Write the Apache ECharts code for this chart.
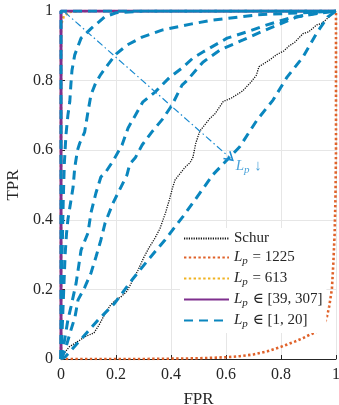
<!DOCTYPE html>
<html>
<head>
<meta charset="utf-8">
<script src="https://cdn.jsdelivr.net/npm/echarts@6/dist/echarts.min.js"></script>
<style>
  html, body { margin: 0; padding: 0; background: #fff; }
  #chart { width: 339px; height: 405px; }
</style>
</head>
<body>
<div id="chart"></div>
<script>
// ROC curves, [FPR, TPR] pairs
const xTicks = [0, 0.2, 0.4, 0.6, 0.8, 1];
const yTicks = [0, 0.2, 0.4, 0.6, 0.8, 1];

const schur = [[0,0],[0.015,0.02],[0.03,0.035],[0.06,0.05],[0.09,0.065],[0.12,0.075],[0.14,0.1],[0.16,0.13],
  [0.18,0.155],[0.2,0.17],[0.22,0.18],[0.24,0.195],[0.26,0.225],[0.28,0.255],[0.3,0.29],[0.32,0.32],
  [0.34,0.345],[0.36,0.375],[0.38,0.42],[0.395,0.46],[0.405,0.49],[0.415,0.515],[0.43,0.53],[0.45,0.55],
  [0.47,0.565],[0.48,0.58],[0.49,0.62],[0.505,0.655],[0.52,0.67],[0.54,0.69],[0.56,0.705],[0.59,0.74],
  [0.62,0.75],[0.64,0.76],[0.66,0.77],[0.69,0.795],[0.71,0.815],[0.72,0.84],[0.74,0.85],[0.76,0.86],
  [0.785,0.875],[0.81,0.885],[0.83,0.9],[0.85,0.91],[0.88,0.935],[0.9,0.94],[0.93,0.96],[0.95,0.965],
  [0.97,0.98],[0.985,0.99],[1,1]];
const lp1225 = [[0,0],[0.3,0],[0.5,0.002],[0.6,0.005],[0.65,0.008],[0.7,0.013],[0.75,0.022],[0.8,0.035],
  [0.85,0.05],[0.88,0.06],[0.905,0.07],[0.93,0.078],[0.95,0.09],[0.965,0.115],[0.975,0.15],[0.985,0.2],
  [0.99,0.27],[0.995,0.36],[0.998,0.46],[1,0.6],[1,1]];
const lp613 = [[0,0],[0,0.96],[0.01,0.985],[0.03,0.997],[0.06,1],[1,1]];
const lp39to307 = [[0,0],[0,1],[1,1]];
// L_p in [1, 20], one curve per L_p (best to worst)
const lpSmall = [
  [[0,0],[0,1],[1,1]],
  [[0,0],[0.002,0.15],[0.004,0.3],[0.008,0.45],[0.012,0.56],[0.018,0.644],[0.025,0.7],[0.032,0.74],
   [0.036,0.79],[0.04,0.83],[0.05,0.874],[0.073,0.922],[0.11,0.95],[0.159,0.983],[0.2,0.995],[0.3,1],[1,1]],
  [[0,0],[0.005,0.1],[0.01,0.2],[0.015,0.3],[0.02,0.36],[0.025,0.4],[0.035,0.45],[0.044,0.494],[0.05,0.55],
   [0.06,0.6],[0.068,0.62],[0.086,0.652],[0.098,0.71],[0.109,0.759],[0.127,0.795],[0.145,0.818],[0.17,0.845],
   [0.2,0.876],[0.24,0.902],[0.295,0.925],[0.367,0.945],[0.476,0.963],[0.553,0.974],[0.713,0.989],[0.93,0.997],[1,1]],
  [[0,0],[0.007,0.026],[0.025,0.112],[0.036,0.149],[0.055,0.218],[0.073,0.313],[0.098,0.362],[0.109,0.42],
   [0.127,0.477],[0.145,0.523],[0.165,0.54],[0.19,0.57],[0.222,0.615],[0.244,0.664],[0.27,0.7],[0.298,0.739],
   [0.342,0.767],[0.396,0.81],[0.44,0.836],[0.48,0.865],[0.516,0.882],[0.604,0.922],[0.676,0.94],[0.749,0.96],
   [0.833,0.98],[0.93,0.994],[1,1]],
  [[0,0],[0.015,0.026],[0.036,0.083],[0.051,0.121],[0.062,0.17],[0.087,0.207],[0.109,0.247],[0.127,0.293],
   [0.145,0.342],[0.16,0.39],[0.189,0.448],[0.218,0.494],[0.24,0.529],[0.25,0.56],[0.27,0.578],[0.295,0.615],
   [0.33,0.652],[0.37,0.69],[0.404,0.73],[0.44,0.787],[0.458,0.8],[0.516,0.853],[0.578,0.888],[0.662,0.917],
   [0.76,0.951],[0.858,0.983],[0.94,0.994],[1,1]],
  [[0,0],[0.015,0.006],[0.08,0.063],[0.135,0.112],[0.196,0.161],[0.258,0.227],[0.316,0.284],[0.378,0.342],
   [0.444,0.41],[0.487,0.457],[0.553,0.53],[0.65,0.61],[0.713,0.687],[0.771,0.744],[0.822,0.81],[0.88,0.868],
   [0.93,0.937],[0.97,0.983],[1,1]]
];
// "L_p decreasing" annotation arrow
const arrowFrom = [0.013, 0.997];
const arrowTo = [0.615, 0.578];
const arrowLabelAt = [0.635, 0.555];

const FONT = '"Liberation Serif", "DejaVu Serif", serif';
const TXT = '#262626';
const BLUE = '#0a86be';
const ARROW_BLUE = '#1b8bd0';
// open chevron head, tip pointing up
const CHEVRON = 'path://M5,0 L10,8.5 L8.8,9.2 L5,2.8 L1.2,9.2 L0,8.5 Z';

const GRID = { left: 61, right: 3, top: 11, bottom: 46 };
const plotW = 339 - GRID.left - GRID.right;
const plotH = 405 - GRID.top - GRID.bottom;
// screen-space direction of the shaft, clockwise from "up"
const headAngle = Math.atan2((arrowTo[0] - arrowFrom[0]) * plotW,
  (arrowTo[1] - arrowFrom[1]) * plotH) * 180 / Math.PI;

const rich = {
  t: { fontFamily: FONT, fontSize: 15, color: TXT },
  i: { fontFamily: FONT, fontSize: 15, color: TXT, fontStyle: 'italic' },
  s: { fontFamily: FONT, fontSize: 11, color: TXT, fontStyle: 'italic', padding: [8, 1, 0, 0] }
};
function mathName(name) {
  if (name.indexOf('Lp') === 0) return '{i|L}{s|p}{t|' + name.slice(2) + '}';
  return '{t|' + name + '}';
}

function line(name, data, color, width, type, z) {
  return {
    name: name, type: 'line', data: data, showSymbol: false, symbol: 'none', z: z,
    lineStyle: { color: color, width: width, type: type, cap: 'butt' },
    itemStyle: { color: color }
  };
}

let series = [
  line('Schur', schur, '#111', 1.3, [1.2, 1.2], 2),
  line('Lp = 1225', lp1225, '#e0622a', 2.6, [2.4, 2.4], 2),
  line('Lp = 613', lp613, '#f0b323', 2.6, [2.4, 2.4], 2),
  line('Lp \u2208 [39, 307]', lp39to307, '#7f2f8e', 3, 'solid', 2)
];
lpSmall.forEach(function (d) {
  series.push(line('Lp \u2208 [1, 20]', d, BLUE, 3, [9, 6], 3));
});
series.push({
  type: 'line', z: 4, silent: true, showSymbol: false, symbol: 'none',
  lineStyle: { color: ARROW_BLUE, width: 1.2, type: [7, 3, 1.5, 3] },
  data: [arrowFrom, arrowTo]
});
series.push({
  type: 'scatter', z: 5, silent: true,
  symbol: CHEVRON, symbolSize: [11, 10],
  itemStyle: { color: ARROW_BLUE, opacity: 1 },
  data: [{ value: arrowTo, symbolRotate: -headAngle }]
});
series.push({
  type: 'scatter', z: 4, silent: true, symbolSize: 0,
  data: [arrowLabelAt],
  label: {
    show: true, position: 'right', distance: 0,
    formatter: '{i|L}{s|p}{t| \u2193}',
    rich: {
      t: { fontFamily: FONT, fontSize: 15, color: ARROW_BLUE },
      i: { fontFamily: FONT, fontSize: 15, color: ARROW_BLUE, fontStyle: 'italic' },
      s: { fontFamily: FONT, fontSize: 11, color: ARROW_BLUE, fontStyle: 'italic', padding: [8, 1, 0, 0] }
    }
  }
});

const chart = echarts.init(document.getElementById('chart'), null, { renderer: 'canvas' });
chart.setOption({
  animation: false,
  backgroundColor: '#fff',
  grid: { left: GRID.left, right: GRID.right, top: GRID.top, bottom: GRID.bottom, containLabel: false, outerBoundsMode: 'none' },
  legend: {
    data: ['Schur', 'Lp = 1225', 'Lp = 613', 'Lp \u2208 [39, 307]', 'Lp \u2208 [1, 20]'],
    orient: 'vertical', left: 180, top: 228,
    backgroundColor: '#fff', padding: [3, 4, 3, 3],
    itemWidth: 45, itemHeight: 12, itemGap: 4,
    itemStyle: { opacity: 0 },
    formatter: mathName,
    textStyle: { rich: rich, padding: [0, 0, 0, 0] }
  },
  xAxis: {
    type: 'value', min: 0, max: 1, interval: 0.2,
    name: 'FPR', nameLocation: 'middle', nameGap: 32,
    nameTextStyle: { fontFamily: FONT, fontSize: 17, color: TXT },
    axisLine: { show: true, lineStyle: { color: TXT, width: 1 } },
    axisTick: { show: true, inside: true, length: 4, lineStyle: { color: TXT } },
    axisLabel: { fontFamily: FONT, fontSize: 16, color: TXT, margin: 8,
      formatter: function (v) { return xTicks.indexOf(Math.round(v * 10) / 10) >= 0 ? String(Math.round(v * 10) / 10) : ''; } },
    splitLine: { show: true, lineStyle: { color: '#e6e6e6', width: 1 } }
  },
  yAxis: {
    type: 'value', min: 0, max: 1, interval: 0.2,
    name: 'TPR', nameLocation: 'middle', nameGap: 38, nameRotate: 90,
    nameTextStyle: { fontFamily: FONT, fontSize: 17, color: TXT },
    axisLine: { show: true, lineStyle: { color: TXT, width: 1 } },
    axisTick: { show: true, inside: true, length: 4, lineStyle: { color: TXT } },
    axisLabel: { fontFamily: FONT, fontSize: 16, color: TXT, margin: 8,
      formatter: function (v) { return yTicks.indexOf(Math.round(v * 10) / 10) >= 0 ? String(Math.round(v * 10) / 10) : ''; } },
    splitLine: { show: true, lineStyle: { color: '#e6e6e6', width: 1 } }
  },
  series: series
});
</script>
</body>
</html>
